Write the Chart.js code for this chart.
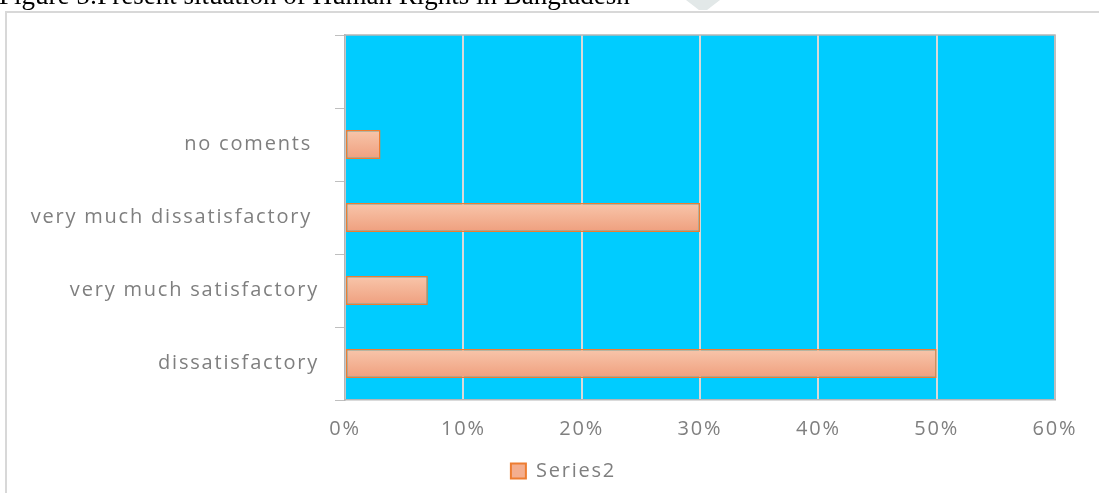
<!DOCTYPE html>
<html><head><meta charset="utf-8">
<script src="https://cdn.jsdelivr.net/npm/chart.js@4.4.0/dist/chart.umd.min.js"></script>
<style>
html,body{margin:0;padding:0;background:#fff;width:1099px;height:493px;overflow:hidden;position:relative}
#title{position:absolute;left:-1px;top:-18px;font-family:"Liberation Serif","Times New Roman",serif;font-size:27px;line-height:1;white-space:nowrap;color:#000;z-index:2}
#frame{position:absolute;left:5px;top:11px;right:-5px;bottom:-5px;border-top:2px solid #d8d8d8;border-left:2px solid #d8d8d8}
#mark{position:absolute;left:686px;top:0;width:34px;height:10px;background:#e2e8e8;clip-path:polygon(0 0,100% 0,62% 100%,38% 100%)}
#wrap{position:absolute;left:0;top:0;width:1099px;height:493px}
</style></head>
<body>
<div id="frame"></div>
<div id="mark"></div>
<div id="title">Figure 5:Present situation of Human Rights in Bangladesh</div>
<div id="wrap"><canvas id="c" width="1099" height="493"></canvas></div>
<script>
const categories = ['', 'no coments ', 'very much dissatisfactory ', 'very much satisfactory', 'dissatisfactory'];
const series2 = [null, 3, 30, 7, 50];
const seriesName = 'Series2';
const xMin = 0, xMax = 60, xStep = 10;

const labelColor = '#7f7f7f';
const labelFont = {family: "'Open Sans', sans-serif", size: 20};
const textSpacing = '1.8px';

const spacingPlugin = {
  id: 'spacingPlugin',
  beforeUpdate(chart) { chart.ctx.letterSpacing = textSpacing; },
  beforeLayout(chart) { chart.ctx.letterSpacing = textSpacing; },
  afterLayout(chart) {
    const l = chart.legend;
    if (l) { l.left += 36; l.right += 36; }
  },
  beforeDraw(chart) { chart.ctx.letterSpacing = textSpacing; }
};

const bgPlugin = {
  id: 'bgPlugin',
  beforeDraw(chart) {
    const {ctx, chartArea: a} = chart;
    ctx.save();
    ctx.fillStyle = '#00ccff';
    ctx.fillRect(a.left, a.top, a.right - a.left, a.bottom - a.top);
    ctx.restore();
  },
  beforeDatasetsDraw(chart) {
    const {ctx, chartArea: a} = chart;
    ctx.save();
    ctx.strokeStyle = '#b5b5b5';
    ctx.lineWidth = 1.5;
    ctx.beginPath();
    ctx.moveTo(a.left, a.top); ctx.lineTo(a.right, a.top); ctx.lineTo(a.right, a.bottom);
    ctx.stroke();
    ctx.restore();
  }
};

new Chart(document.getElementById('c'), {
  type: 'bar',
  data: {
    labels: categories,
    datasets: [{
      label: seriesName,
      data: series2,
      backgroundColor: (ctx) => {
        const chart = ctx.chart, ya = chart.scales.y;
        if (!ya || ctx.type !== 'data' || !ya.height) return '#f4b396';
        const c = ya.getPixelForValue(ctx.dataIndex);
        const h = ya.height / categories.length * 0.4 / 2;
        const g = chart.ctx.createLinearGradient(0, c - h, 0, c + h);
        g.addColorStop(0, '#f8c6ab');
        g.addColorStop(1, '#ef9f7e');
        return g;
      },
      borderColor: '#ed7d31',
      borderWidth: 1.5,
      borderSkipped: false,
      barPercentage: 0.4,
      categoryPercentage: 1
    }]
  },
  options: {
    indexAxis: 'y',
    responsive: false,
    animation: false,
    devicePixelRatio: 1,
    layout: {padding: {left: 0, right: 44, top: 35, bottom: 2}},
    plugins: {
      title: {display: false},
      tooltip: {enabled: false},
      legend: {
        position: 'bottom',
        labels: {
          boxWidth: 15, boxHeight: 15, padding: 10,
          color: labelColor, font: labelFont,
          generateLabels: () => [{text: seriesName, fillStyle: '#f4ae8e', strokeStyle: '#ed7d31', fontColor: labelColor, lineWidth: 2, datasetIndex: 0}]
        }
      }
    },
    scales: {
      x: {
        min: xMin, max: xMax,
        ticks: {stepSize: xStep, callback: v => v + '%', color: labelColor, font: labelFont, padding: 17},
        grid: {color: '#d9d9d9', lineWidth: 2, drawTicks: false},
        border: {display: true, color: '#b5b5b5', width: 1.5},
        afterFit: s => { s.height = 51; }
      },
      y: {
        ticks: {color: labelColor, font: labelFont, padding: 16, autoSkip: false},
        grid: {display: true, drawOnChartArea: false, drawTicks: true, tickLength: 10, color: '#bfbfbf', offset: true},
        border: {display: true, color: '#b5b5b5', width: 1.5},
        afterFit: s => { s.width = 345; }
      }
    }
  },
  plugins: [spacingPlugin, bgPlugin]
});
</script>
</body></html>
